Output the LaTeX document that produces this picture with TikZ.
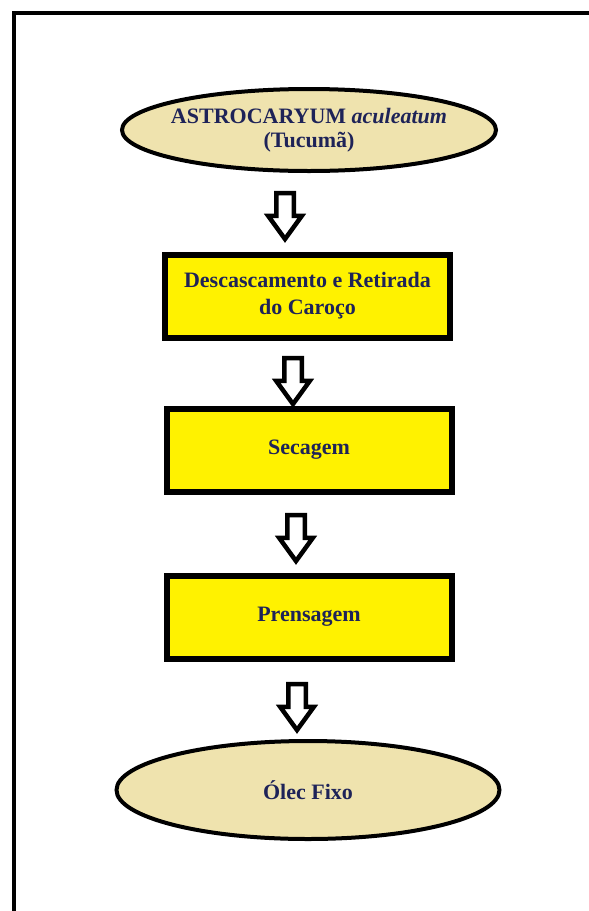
\documentclass[tikz,border=0pt]{standalone}
\usepackage{fontspec}
\setmainfont{Liberation Serif}
\usetikzlibrary{shapes.geometric,shapes.arrows}
\definecolor{navytext}{HTML}{1E2358}
\definecolor{tucumabeige}{HTML}{EFE3AE}
\definecolor{stepyellow}{HTML}{FFF200}
\begin{document}
\begin{tikzpicture}[x=1pt, y=-1pt,
    endpoint/.style={draw=black, line width=4pt, ellipse, fill=tucumabeige, inner sep=0pt,
      font=\fontsize{22}{25}\selectfont\bfseries, text=navytext, align=center},
    stepbox/.style={draw=black, line width=6pt, rectangle, fill=stepyellow, inner sep=0pt,
      minimum width=285pt, minimum height=83pt,
      font=\fontsize{22}{27}\selectfont\bfseries, text=navytext, align=center},
    downarrow/.style={draw=black, line width=4.5pt, fill=white, single arrow, shape border rotate=270,
      inner sep=6.5pt, single arrow head extend=8pt, single arrow tip angle=72,
      minimum height=46pt}]

  \useasboundingbox (0,0) rectangle (589,911);
  \draw[line width=4pt] (589,12.5) -- (14,12.5) -- (14,911);

  \node[endpoint, inner xsep=-14pt, minimum width=374pt, minimum height=82pt] (fruit) at (309,130)
    {\raisebox{-4pt}{ASTROCARYUM \textit{aculeatum}}\\[-1pt]\raisebox{-4pt}{(Tucumã)}};
  \node[stepbox] (peel) at (307.5,296) {Descascamento e Retirada\\do Caroço};
  \node[stepbox] (dry) at (309,450) {Secagem};
  \node[stepbox] (press) at (309,617) {Prensagem};
  \node[endpoint, minimum width=383pt, minimum height=98pt] (oil) at (308,790) {Ólec Fixo};

  \node[downarrow] (a1) at (285,210) {};
  \node[downarrow] (a2) at (293,375) {};
  \node[downarrow] (a3) at (296,532) {};
  \node[downarrow] (a4) at (297,701) {};
\end{tikzpicture}
\end{document}
